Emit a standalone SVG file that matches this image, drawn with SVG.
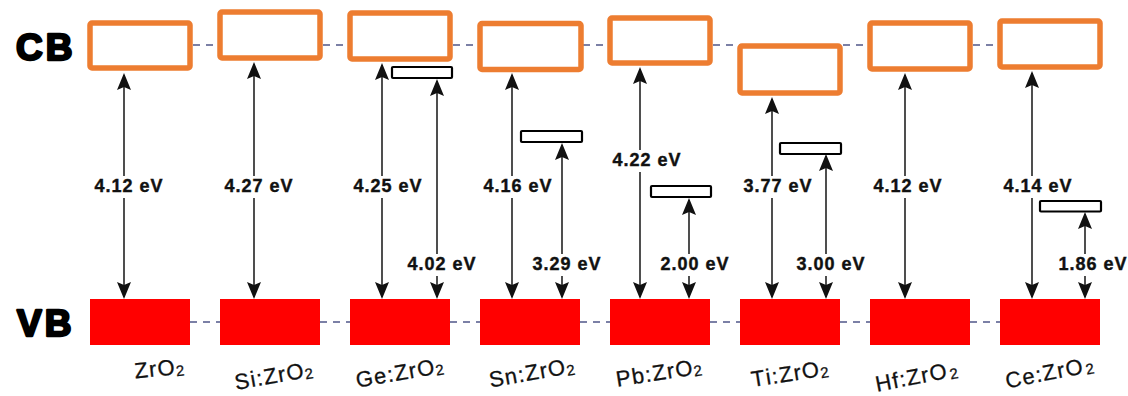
<svg xmlns="http://www.w3.org/2000/svg" width="1128" height="396" viewBox="0 0 1128 396">
<defs>
<marker id="ah" viewBox="0 0 17 14" refX="15" refY="7" markerWidth="17" markerHeight="14" markerUnits="userSpaceOnUse" orient="auto-start-reverse">
<path d="M0,0 L17,7 L0,14 L3,7 z" fill="#111"/>
</marker>
<style>
.cb{fill:#fff;stroke:#ED7D31;stroke-width:5.5}
.vb{fill:#FF0000}
.df{fill:#fff;stroke:#000;stroke-width:2.2}
.dash{stroke:#7b80a6;stroke-width:1.8;stroke-dasharray:7 6;fill:none}
.arr{stroke:#222;stroke-width:1.6;fill:none;marker-start:url(#ah);marker-end:url(#ah)}
.ev{font-family:"Liberation Sans",Arial,sans-serif;font-weight:bold;font-size:18px;letter-spacing:1px;fill:#111;stroke:#111;stroke-width:0.4;text-anchor:middle}
.bg{fill:#fff}
.band{font-family:"Liberation Sans",Arial,sans-serif;font-weight:bold;font-size:37px;fill:#000;stroke:#000;stroke-width:2.4;stroke-linejoin:round;letter-spacing:3px}
.nm{font-family:"Liberation Sans",Arial,sans-serif;font-size:22px;fill:#111;stroke:#111;stroke-width:0.3;text-anchor:start}
.sub{font-size:15px}
</style>
</defs>
<rect width="1128" height="396" fill="#fff"/>
<g id="levels">
<line class="dash" x1="193" y1="45" x2="997" y2="45"/>
<line class="dash" x1="190" y1="322" x2="1000" y2="322"/>
</g>
<g id="band-labels">
<text class="band" x="16" y="60">CB</text>
<text class="band" x="17" y="336">VB</text>
</g>
<g id="cb-1"><rect class="cb" x="90" y="23" width="100" height="45" rx="2"/></g>
<g id="cb-2"><rect class="cb" x="220" y="12" width="100" height="46" rx="2"/></g>
<g id="cb-3"><rect class="cb" x="350" y="13" width="100" height="46" rx="2"/></g>
<g id="cb-4"><rect class="cb" x="480" y="23.5" width="101" height="46" rx="2"/></g>
<g id="cb-5"><rect class="cb" x="610" y="18" width="100" height="45" rx="2"/></g>
<g id="cb-6"><rect class="cb" x="740" y="46" width="100" height="47" rx="2"/></g>
<g id="cb-7"><rect class="cb" x="870" y="23" width="100" height="46" rx="2"/></g>
<g id="cb-8"><rect class="cb" x="1000" y="21" width="100" height="46" rx="2"/></g>
<g id="vb-1"><rect class="vb" x="90" y="299" width="100" height="46"/></g>
<g id="vb-2"><rect class="vb" x="220" y="299" width="100" height="46"/></g>
<g id="vb-3"><rect class="vb" x="350" y="299" width="100" height="46"/></g>
<g id="vb-4"><rect class="vb" x="480" y="299" width="100" height="46"/></g>
<g id="vb-5"><rect class="vb" x="610" y="299" width="100" height="46"/></g>
<g id="vb-6"><rect class="vb" x="740" y="299" width="100" height="46"/></g>
<g id="vb-7"><rect class="vb" x="870" y="299" width="100" height="46"/></g>
<g id="vb-8"><rect class="vb" x="1000" y="299" width="100" height="46"/></g>
<g id="defect-ge"><rect class="df" x="392" y="67" width="60" height="11" rx="1"/></g>
<g id="defect-sn"><rect class="df" x="521" y="131" width="61" height="11" rx="1"/></g>
<g id="defect-pb"><rect class="df" x="651" y="186" width="60" height="11" rx="1"/></g>
<g id="defect-ti"><rect class="df" x="780" y="143" width="61" height="11" rx="1"/></g>
<g id="defect-ce"><rect class="df" x="1040" y="201" width="61" height="10.5" rx="1"/></g>
<g id="connectors">
<line class="arr" x1="124" y1="75" x2="124" y2="297"/>
<line class="arr" x1="254" y1="64" x2="254" y2="297"/>
<line class="arr" x1="382" y1="65" x2="382" y2="297"/>
<line class="arr" x1="512" y1="75" x2="512" y2="297"/>
<line class="arr" x1="640" y1="69" x2="640" y2="297"/>
<line class="arr" x1="772" y1="99" x2="772" y2="297"/>
<line class="arr" x1="905" y1="75" x2="905" y2="297"/>
<line class="arr" x1="1032" y1="73" x2="1032" y2="297"/>
<line class="arr" x1="437" y1="81" x2="437" y2="297"/>
<line class="arr" x1="562" y1="145" x2="562" y2="297"/>
<line class="arr" x1="689" y1="200" x2="689" y2="297"/>
<line class="arr" x1="826" y1="156" x2="826" y2="297"/>
<line class="arr" x1="1085" y1="214" x2="1085" y2="297"/>
</g>
<g id="gap-labels">
<rect class="bg" x="93" y="176" width="72" height="22"/><text class="ev" x="129" y="192">4.12 eV</text>
<rect class="bg" x="223" y="176" width="72" height="22"/><text class="ev" x="259" y="192">4.27 eV</text>
<rect class="bg" x="352" y="176" width="72" height="22"/><text class="ev" x="388" y="192">4.25 eV</text>
<rect class="bg" x="482" y="176" width="72" height="22"/><text class="ev" x="518" y="192">4.16 eV</text>
<rect class="bg" x="611" y="150" width="72" height="22"/><text class="ev" x="647" y="166">4.22 eV</text>
<rect class="bg" x="742" y="176" width="72" height="22"/><text class="ev" x="778" y="192">3.77 eV</text>
<rect class="bg" x="872" y="176" width="72" height="22"/><text class="ev" x="908" y="192">4.12 eV</text>
<rect class="bg" x="1002" y="176" width="72" height="22"/><text class="ev" x="1038" y="192">4.14 eV</text>
<rect class="bg" x="406" y="254" width="72" height="22"/><text class="ev" x="442" y="270">4.02 eV</text>
<rect class="bg" x="531" y="254" width="72" height="22"/><text class="ev" x="567" y="270">3.29 eV</text>
<rect class="bg" x="659" y="254" width="72" height="22"/><text class="ev" x="695" y="270">2.00 eV</text>
<rect class="bg" x="795" y="254" width="72" height="22"/><text class="ev" x="831" y="270">3.00 eV</text>
<rect class="bg" x="1057" y="254" width="71" height="22"/><text class="ev" x="1093" y="270">1.86 eV</text>
</g>
<g id="names">
<text class="nm" x="135.2 149.8 158.3" y="378.6 377.1 376.2" rotate="-6">ZrO<tspan class="sub" x="176.5" y="376.3" rotate="-6">2</tspan></text>
<text class="nm" x="236.1 251.7 257.7 264.9 279.3 287.7" y="389.9 387.1 386.1 384.8 382.2 380.8" rotate="-10">Si:ZrO<tspan class="sub" x="305.7" y="379.6" rotate="-10">2</tspan></text>
<text class="nm" x="357.2 375.3 388.5 395.7 410.1 418.5" y="387.7 384.5 382.2 380.9 378.4 376.9" rotate="-10">Ge:ZrO<tspan class="sub" x="436.6" y="375.7" rotate="-10">2</tspan></text>
<text class="nm" x="490.4 506.1 519.3 526.5 540.9 549.3" y="387.5 384.7 382.4 381.1 378.6 377.1" rotate="-10">Sn:ZrO<tspan class="sub" x="567.4" y="375.9" rotate="-10">2</tspan></text>
<text class="nm" x="617.3 633.0 646.3 653.5 667.9 676.4" y="386.8 384.3 382.2 381.0 378.7 377.4" rotate="-9">Pb:ZrO<tspan class="sub" x="694.5" y="376.5" rotate="-9">2</tspan></text>
<text class="nm" x="752.5 767.0 773.0 780.2 794.7 803.1" y="387.1 384.8 383.9 382.7 380.4 379.1" rotate="-9">Ti:ZrO<tspan class="sub" x="821.2" y="378.2" rotate="-9">2</tspan></text>
<text class="nm" x="877.0 893.7 900.9 908.1 922.5 930.9" y="391.8 388.5 387.1 385.7 382.9 381.3" rotate="-11">Hf:ZrO<tspan class="sub" x="950.8" y="379.4" rotate="-11">2</tspan></text>
<text class="nm" x="1007.0 1023.7 1036.9 1044.1 1058.5 1066.9" y="388.4 385.1 382.5 381.1 378.3 376.7" rotate="-11">Ce:ZrO<tspan class="sub" x="1086.8" y="374.8" rotate="-11">2</tspan></text>
</g>
</svg>
